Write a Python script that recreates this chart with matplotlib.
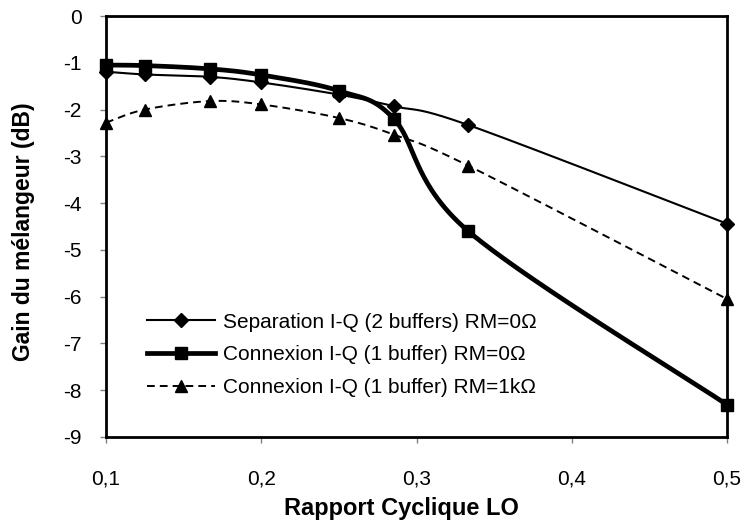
import numpy as np
import matplotlib
matplotlib.use("Agg")
import matplotlib.pyplot as plt
from matplotlib.lines import Line2D

plt.rcParams['font.family'] = ['Liberation Sans', 'DejaVu Sans']

# Duty cycle of the LO (1/10, 1/8, 1/6, 1/5, 1/4, 2/7, 1/3, 1/2)
duty = [0.1, 0.125, 1/6, 0.2, 0.25, 2/7, 1/3, 0.5]

gain_sep_2buf = [-1.19, -1.25, -1.30, -1.42, -1.68, -1.93, -2.33, -4.44]
gain_cnx_1buf = [-1.05, -1.06, -1.13, -1.26, -1.60, -2.21, -4.60, -8.31]
gain_cnx_1k = [-2.28, -2.00, -1.82, -1.89, -2.18, -2.54, -3.20, -6.05]

labels = ["Separation I-Q (2 buffers) RM=0\u03a9",
          "Connexion I-Q (1 buffer) RM=0\u03a9",
          "Connexion I-Q (1 buffer) RM=1k\u03a9"]

xticks = [0.1, 0.2, 0.3, 0.4, 0.5]
xtick_labels = ["0,1", "0,2", "0,3", "0,4", "0,5"]
yticks = [0, -1, -2, -3, -4, -5, -6, -7, -8, -9]
ytick_labels = ["0", "-1", "-2", "-3", "-4", "-5", "-6", "-7", "-8", "-9"]

W, H = 746, 524


def smooth(xs, ys, n=60):
    """Cubic Bezier smoothing through every point (spreadsheet-style)."""
    p = np.column_stack([xs, ys]).astype(float)
    m = len(p)
    out = []
    for i in range(m - 1):
        p0 = p[i - 1] if i > 0 else p[i]
        p1 = p[i]
        p2 = p[i + 1]
        p3 = p[i + 2] if i + 2 < m else p[i + 1]
        c1 = p1 + (p2 - p0) / 6.0
        c2 = p2 - (p3 - p1) / 6.0
        t = np.linspace(0, 1, n)[:, None]
        seg = ((1 - t) ** 3) * p1 + 3 * ((1 - t) ** 2) * t * c1 \
            + 3 * (1 - t) * t ** 2 * c2 + t ** 3 * p2
        out.append(seg if i == 0 else seg[1:])
    arr = np.vstack(out)
    return arr[:, 0], arr[:, 1]


fig = plt.figure(figsize=(W / 100, H / 100), dpi=100)
ax = fig.add_axes([106 / W, 1 - 437 / H, (727 - 106) / W, (437 - 16) / H])

styles = [
    dict(lw=1.5, ls='-', marker='D', ms=7.0),
    dict(lw=3.4, ls='-', marker='s', ms=8.5),
    dict(lw=1.4, ls=(0, (4, 2.6)), marker='^', ms=9.0),
]
series = [gain_sep_2buf, gain_cnx_1buf, gain_cnx_1k]

handles = []
for ys, st, lab in zip(series, styles, labels):
    sx, sy = smooth(duty, ys)
    ax.plot(sx, sy, color='black', lw=st['lw'], ls=st['ls'], clip_on=False,
            zorder=3)
    ax.plot(duty, ys, ls='none', marker=st['marker'], ms=st['ms'],
            color='black', clip_on=False, zorder=4)
    handles.append(Line2D([], [], color='black', lw=st['lw'], ls=st['ls'],
                          marker=st['marker'], ms=st['ms']))

ax.set_xlim(0.1, 0.5)
ax.set_ylim(-9, 0)
ax.set_xticks(xticks)
ax.set_xticklabels(xtick_labels)
ax.set_yticks(yticks)
ax.set_yticklabels(ytick_labels)

for s in ax.spines.values():
    s.set_linewidth(2.0)
    s.set_color('black')

ax.tick_params(axis='both', direction='out', length=4.5, width=1.0,
               color='#808080', labelsize=15)
ax.tick_params(axis='x', pad=19)
ax.tick_params(axis='y', pad=13)

fig.text(401 / W, 1 - 515 / H, "Rapport Cyclique LO", fontsize=17,
         fontweight='bold', ha='center', va='baseline')
fig.text(24 / W, 1 - 231.5 / H, "Gain du m\u00e9langeur (dB)", fontsize=16.5,
         fontweight='bold', ha='center', va='center', rotation=90)

fig.legend(handles, labels, loc='center left',
           bbox_to_anchor=(147 / W, 1 - 355 / H),
           frameon=False, fontsize=15, handlelength=3.27,
           handletextpad=0.38, labelspacing=0.67, borderpad=0,
           borderaxespad=0)

fig.savefig("out.png", dpi=100)
